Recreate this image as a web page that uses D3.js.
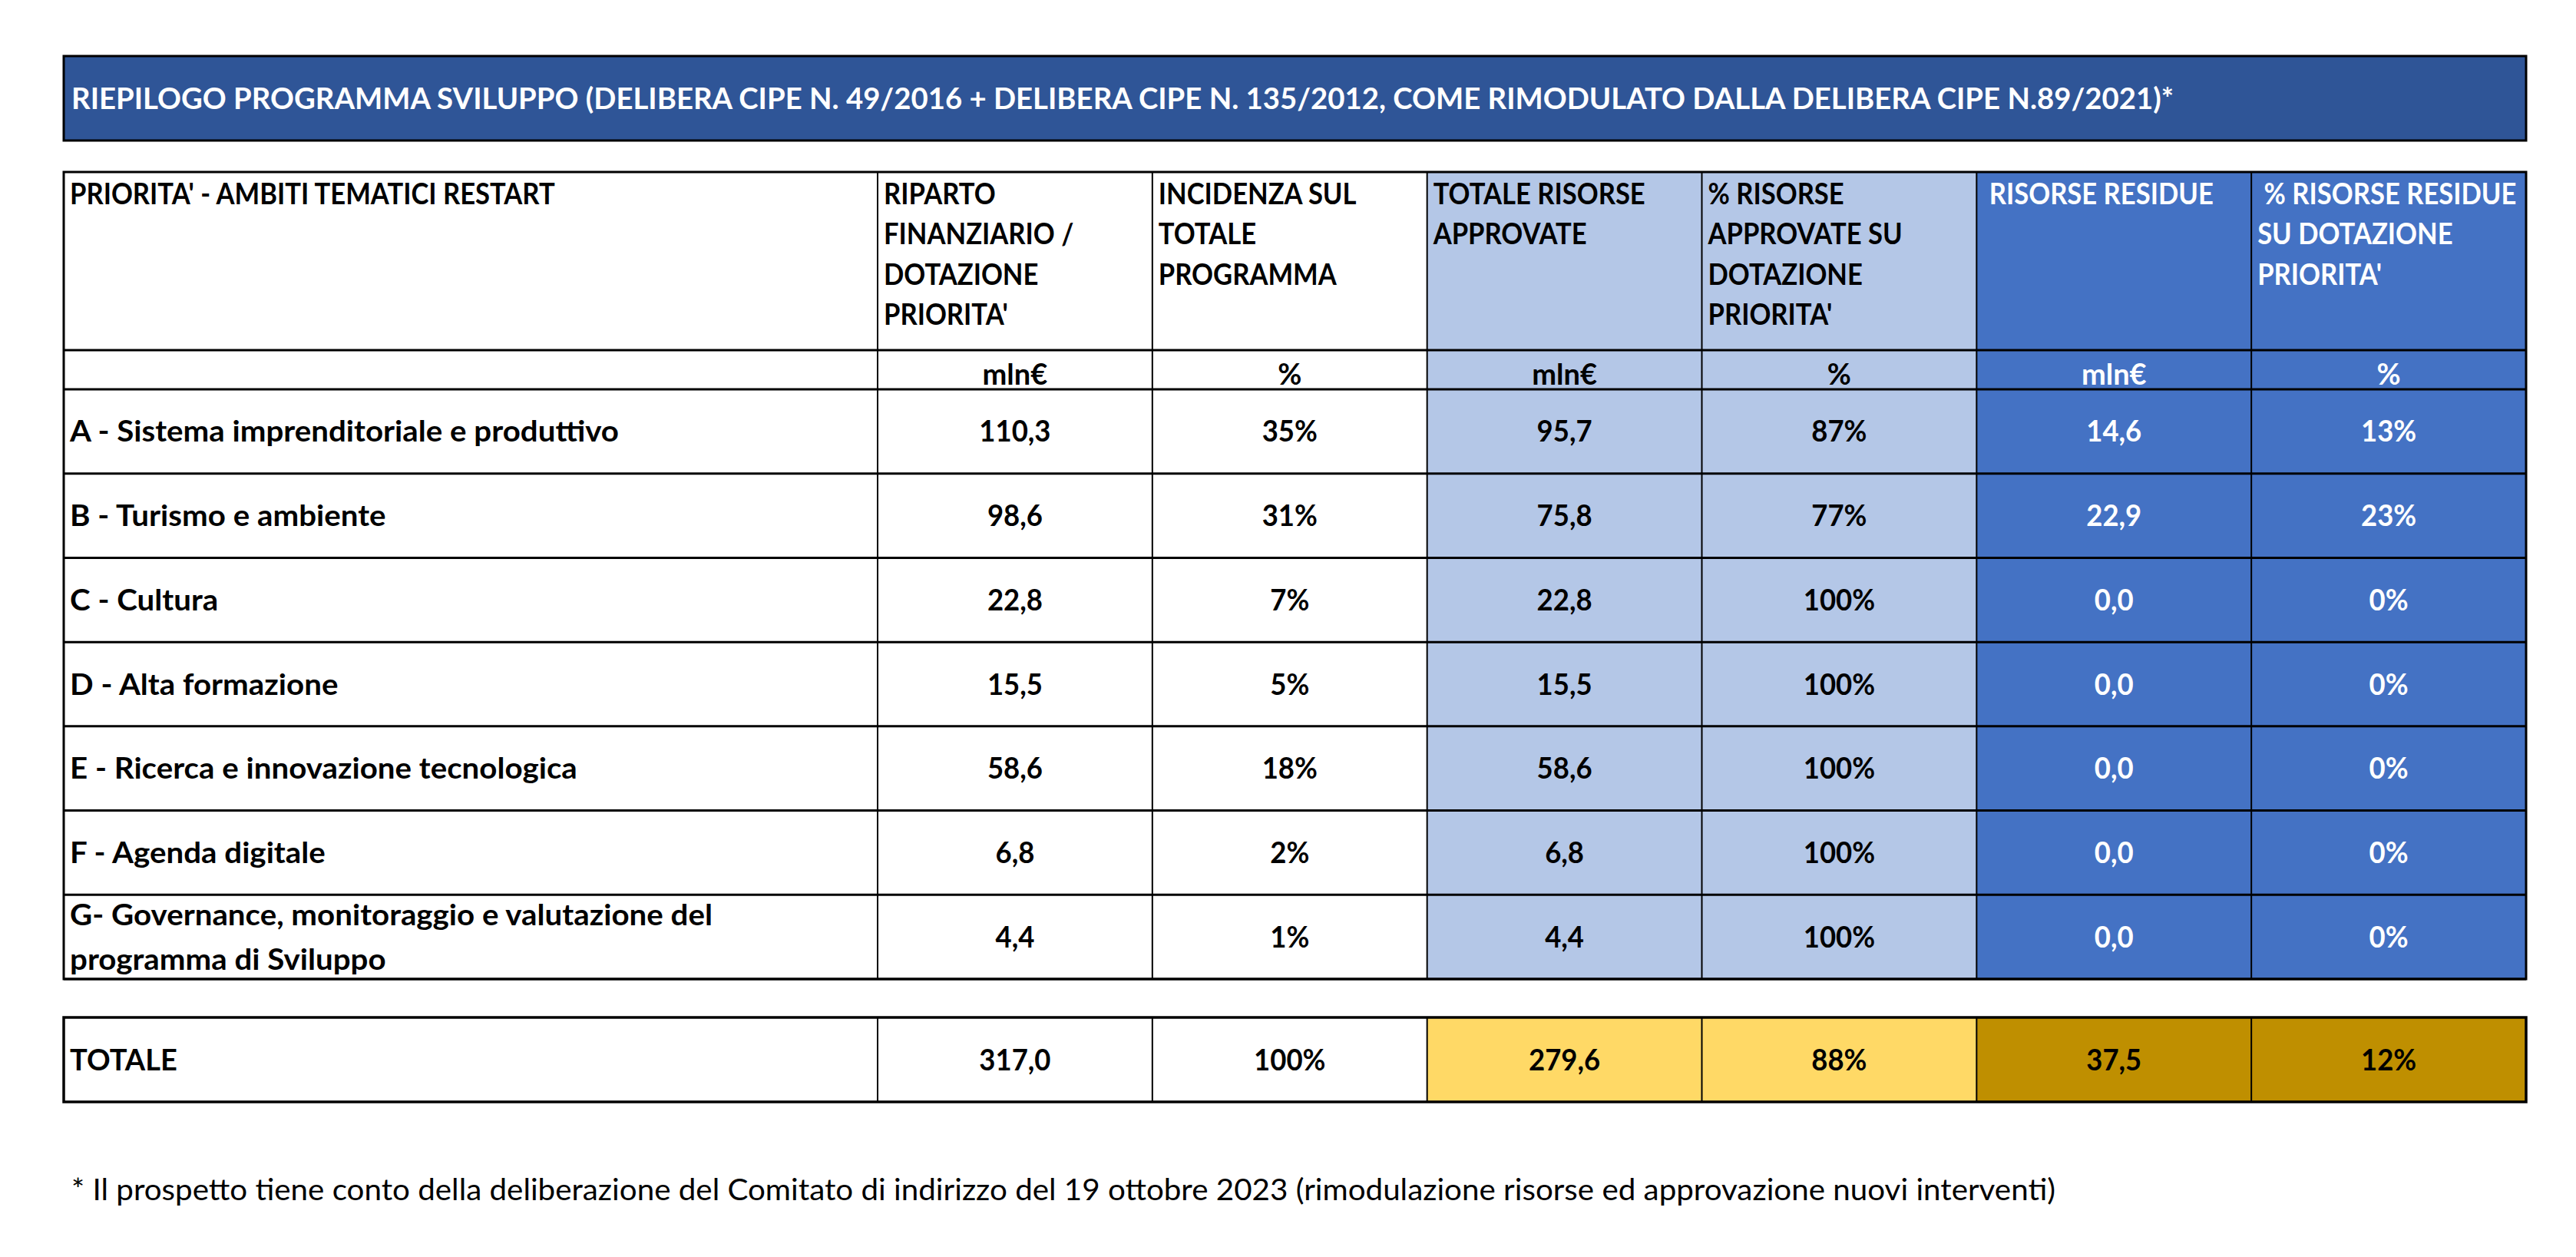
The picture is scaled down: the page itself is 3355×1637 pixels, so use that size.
<!DOCTYPE html>
<html>
<head>
<meta charset="utf-8">
<script src="https://cdn.jsdelivr.net/npm/d3@7"></script>
<style>
  html, body { margin: 0; padding: 0; background: #ffffff; }
  svg text { font-family: Lato, "Open Sans", sans-serif; white-space: pre; }
</style>
</head>
<body>
<div id="chart"></div>
<script>
// ---------------- DATA ----------------
const title = "RIEPILOGO PROGRAMMA SVILUPPO (DELIBERA CIPE N. 49/2016 + DELIBERA CIPE N. 135/2012, COME RIMODULATO DALLA DELIBERA CIPE N.89/2021)*";
const footnote = "* Il prospetto tiene conto della deliberazione del Comitato di indirizzo del 19 ottobre 2023 (rimodulazione risorse ed approvazione nuovi interventi)";

const headerLabels = [
  ["PRIORITA' - AMBITI TEMATICI RESTART"],
  ["RIPARTO", "FINANZIARIO /", "DOTAZIONE", "PRIORITA'"],
  ["INCIDENZA SUL", "TOTALE", "PROGRAMMA"],
  ["TOTALE RISORSE", "APPROVATE"],
  ["% RISORSE", "APPROVATE SU", "DOTAZIONE", "PRIORITA'"],
  [" RISORSE RESIDUE"],
  [" % RISORSE RESIDUE", "SU DOTAZIONE", "PRIORITA'"]
];
const unitLabels = ["", "mln€", "%", "mln€", "%", "mln€", "%"];

const categories = [
  "A - Sistema imprenditoriale e produttivo",
  "B - Turismo e ambiente",
  "C - Cultura",
  "D - Alta formazione",
  "E - Ricerca e innovazione tecnologica",
  "F - Agenda digitale",
  "G- Governance, monitoraggio e valutazione del\nprogramma di Sviluppo"
];
const dotazione      = [110.3, 98.6, 22.8, 15.5, 58.6, 6.8, 4.4];
const incidenza      = [35, 31, 7, 5, 18, 2, 1];
const approvate      = [95.7, 75.8, 22.8, 15.5, 58.6, 6.8, 4.4];
const pctApprovate   = [87, 77, 100, 100, 100, 100, 100];
const residue        = [14.6, 22.9, 0.0, 0.0, 0.0, 0.0, 0.0];
const pctResidue     = [13, 23, 0, 0, 0, 0, 0];

const totalLabel = "TOTALE";
const totalValues = [317.0, 100, 279.6, 88, 37.5, 12];

// ---------------- SETUP ----------------
const W = 3355, H = 1637;
const it = d3.formatLocale({decimal: ",", thousands: ".", grouping: [3], currency: ["€", ""]});
const fNum = it.format(",.1f");
const fPct = v => it.format("d")(v) + "%";
const colFormats = [fNum, fPct, fNum, fPct, fNum, fPct];

const COLORS = {
  titleBg: "#2F5597",
  light: "#B4C7E7",
  dark: "#4472C4",
  yellow: "#FFD966",
  gold: "#BF8F00",
  white: "#FFFFFF"
};
const colFill = [COLORS.white, COLORS.white, COLORS.white, COLORS.light, COLORS.light, COLORS.dark, COLORS.dark];
const colText = ["#000", "#000", "#000", "#000", "#000", "#fff", "#fff"];
const totFill = [COLORS.white, COLORS.white, COLORS.white, COLORS.yellow, COLORS.yellow, COLORS.gold, COLORS.gold];

const svg = d3.select("#chart").append("svg")
  .attr("width", W).attr("height", H)
  .attr("viewBox", `0 0 ${W} ${H}`);
svg.append("rect").attr("width", W).attr("height", H).attr("fill", "#fff");

// table geometry
const tableLeft = 83, tableRight = 3290, firstColRight = 1143;
const headerTop = 224, headerBottom = 456, unitsBottom = 507, dataBottom = 1275;
const totTop = 1325, totBottom = 1435;

const valueCols = d3.range(1, 7);
const xBand = d3.scaleBand().domain(valueCols).range([firstColRight, tableRight]).padding(0);
const colLeft = c => c === 0 ? tableLeft : xBand(c);
const colWidth = c => c === 0 ? (firstColRight - tableLeft) : xBand.bandwidth();
const colCenter = c => colLeft(c) + colWidth(c) / 2;
const allCols = d3.range(0, 7);

const yBand = d3.scaleBand().domain(categories).range([unitsBottom, dataBottom]).padding(0);

const FS = 38;        // body font size
const LH = 52.3;      // header wrapped line spacing
const LH_LABEL = 58;  // row label wrapped line spacing
const CAP = 13.5;     // half cap height for vertical centering

// text helper: appends a text, then optionally rescales its width
function addText(g, x, y, str, opt = {}) {
  const t = g.append("text")
    .attr("x", x).attr("y", y)
    .attr("text-anchor", opt.anchor || "start")
    .attr("fill", opt.fill || "#000")
    .text(str);
  if (opt.size) t.attr("font-size", opt.size);
  if (opt.weight) t.attr("font-weight", opt.weight);
  const node = t.node();
  const natural = node.getComputedTextLength();
  let target = null;
  if (opt.width) target = opt.width;
  else if (opt.factor && opt.factor !== 1) target = natural * opt.factor;
  if (target && natural > 0) {
    t.attr("textLength", target).attr("lengthAdjust", "spacingAndGlyphs");
  }
  return t;
}

// ---------------- TITLE ----------------
svg.append("rect")
  .attr("x", 83).attr("y", 73).attr("width", tableRight - 83).attr("height", 110)
  .attr("fill", COLORS.titleBg).attr("stroke", "#000").attr("stroke-width", 3);
addText(svg, 93, 142, title, {size: 38, weight: 700, fill: "#fff", width: 2738});

// ---------------- CELL FILLS ----------------
const fills = svg.append("g");
allCols.forEach(c => {
  fills.append("rect")
    .attr("x", colLeft(c)).attr("y", headerTop)
    .attr("width", colWidth(c)).attr("height", dataBottom - headerTop)
    .attr("fill", colFill[c]);
  fills.append("rect")
    .attr("x", colLeft(c)).attr("y", totTop)
    .attr("width", colWidth(c)).attr("height", totBottom - totTop)
    .attr("fill", totFill[c]);
});

// ---------------- GRID LINES ----------------
const grid = svg.append("g").attr("stroke", "#000");
valueCols.forEach(c => {
  grid.append("line").attr("x1", colLeft(c)).attr("x2", colLeft(c))
    .attr("y1", headerTop).attr("y2", dataBottom).attr("stroke-width", 2);
  grid.append("line").attr("x1", colLeft(c)).attr("x2", colLeft(c))
    .attr("y1", totTop).attr("y2", totBottom).attr("stroke-width", 2);
});
const hLines = [headerBottom, unitsBottom].concat(categories.map(d => yBand(d) + yBand.bandwidth()));
hLines.forEach(y => {
  grid.append("line").attr("x1", tableLeft).attr("x2", tableRight)
    .attr("y1", y).attr("y2", y).attr("stroke-width", 3);
});
grid.append("rect").attr("x", tableLeft).attr("y", headerTop)
  .attr("width", tableRight - tableLeft).attr("height", dataBottom - headerTop)
  .attr("fill", "none").attr("stroke-width", 3);
grid.append("rect").attr("x", tableLeft).attr("y", totTop)
  .attr("width", tableRight - tableLeft).attr("height", totBottom - totTop)
  .attr("fill", "none").attr("stroke-width", 3.5);

// ---------------- HEADER TEXT ----------------
const txt = svg.append("g").attr("font-size", FS).attr("font-weight", 700);
headerLabels.forEach((lines, c) => {
  lines.forEach((ln, i) => {
    addText(txt, colLeft(c) + 8, 266 + i * LH, ln, {fill: colText[c], factor: 0.91});
  });
});
unitLabels.forEach((u, c) => {
  if (!u) return;
  addText(txt, colCenter(c), 501, u, {anchor: "middle", fill: colText[c]});
});

// ---------------- DATA ROWS ----------------
const series = [dotazione, incidenza, approvate, pctApprovate, residue, pctResidue];
categories.forEach((cat, i) => {
  const cy = yBand(cat) + yBand.bandwidth() / 2;
  const lines = cat.split("\n");
  lines.forEach((ln, k) => {
    addText(txt, tableLeft + 8, cy + CAP + (k - (lines.length - 1) / 2) * LH_LABEL, ln, {factor: 1.06});
  });
  series.forEach((s, j) => {
    const c = j + 1;
    addText(txt, colCenter(c), cy + CAP, colFormats[j](s[i]),
      {anchor: "middle", fill: colText[c], factor: 0.96});
  });
});

// ---------------- TOTAL ROW ----------------
const tcy = (totTop + totBottom) / 2;
addText(txt, tableLeft + 8, tcy + CAP, totalLabel, {});
totalValues.forEach((v, j) => {
  const c = j + 1;
  addText(txt, colCenter(c), tcy + CAP, colFormats[j](v), {anchor: "middle", factor: 0.96});
});

// ---------------- FOOTNOTE ----------------
addText(svg, 93, 1563, footnote, {size: 38, weight: 400, width: 2584});
</script>
</body>
</html>
